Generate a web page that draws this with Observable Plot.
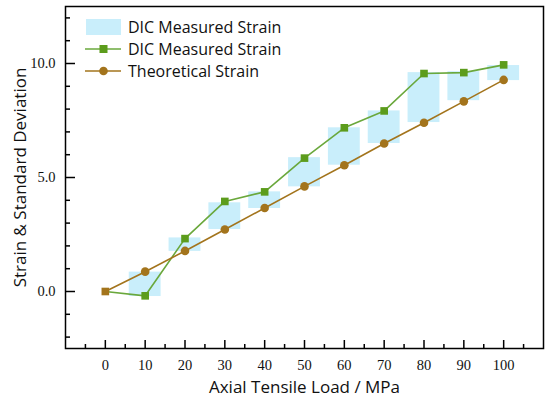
<!DOCTYPE html>
<html>
<head>
<meta charset="utf-8">
<script src="https://cdn.jsdelivr.net/npm/d3@7"></script>
<script src="https://cdn.jsdelivr.net/npm/@observablehq/plot@0.6"></script>
<style>
  html, body { margin: 0; padding: 0; background: #fff; }
  #chart { position: relative; width: 550px; height: 403px; }
</style>
</head>
<body>
<div id="chart"></div>
<script>
// Data
const loads = [0, 10, 20, 30, 40, 50, 60, 70, 80, 90, 100];
const measured = [0, -0.19, 2.32, 3.95, 4.37, 5.85, 7.18, 7.92, 9.56, 9.6, 9.94];
const theoretical = [0, 0.87, 1.78, 2.72, 3.66, 4.61, 5.54, 6.49, 7.40, 8.34, 9.28];
const boxLoads = [10, 20, 30, 40, 50, 60, 70, 80, 90, 100];
const boxLow = [-0.22, 1.76, 2.72, 3.64, 4.59, 5.54, 6.49, 7.41, 8.37, 9.25];
const boxHigh = [0.85, 2.35, 3.89, 4.37, 5.87, 7.18, 7.92, 9.6, 9.64, 9.91];
const xMajorTicks = [0, 10, 20, 30, 40, 50, 60, 70, 80, 90, 100];
const xMinorTicks = [-5, 5, 15, 25, 35, 45, 55, 65, 75, 85, 95, 105];
const yMajorTicks = [0, 5, 10];
const yMinorTicks = [-2, -1, 1, 2, 3, 4, 6, 7, 8, 9, 11, 12];
const legendLabels = ["DIC Measured Strain", "DIC Measured Strain", "Theoretical Strain"];

const green = "#5c9c1c";
const greenLine = "#6aa83c";
const brown = "#a3741c";
const boxFill = "#c9eefb";
const boxHalf = 4;

const W = 550, H = 403, mL = 65, mR = 7, mT = 6, mB = 55;
const fw = W - mL - mR, fh = H - mT - mB;

const pts = loads.map((x, i) => ({x, m: measured[i], t: theoretical[i]}));
const boxes = boxLoads.map((x, i) => ({x, lo: boxLow[i], hi: boxHigh[i]}));

const serif = "Liberation Serif, Times New Roman, serif";
const sans = "Open Sans, Noto Sans, sans-serif";

const plot = Plot.plot({
  width: W,
  height: H,
  marginLeft: mL,
  marginRight: mR,
  marginTop: mT,
  marginBottom: mB,
  style: {background: "#fff", overflow: "visible"},
  x: {domain: [-10, 110]},
  y: {domain: [-2.5, 12.5]},
  marks: [
    Plot.rect(boxes, {x1: d => d.x - boxHalf, x2: d => d.x + boxHalf, y1: "lo", y2: "hi", fill: boxFill}),
    // inward ticks
    Plot.tickX(xMajorTicks, {x: d => d, stroke: "#000", strokeWidth: 1.5, insetTop: fh - 8}),
    Plot.tickX(xMinorTicks, {x: d => d, stroke: "#000", strokeWidth: 1.5, insetTop: fh - 4}),
    Plot.tickY(yMajorTicks, {y: d => d, stroke: "#000", strokeWidth: 1.5, insetRight: fw - 10}),
    Plot.tickY(yMinorTicks, {y: d => d, stroke: "#000", strokeWidth: 1.5, insetRight: fw - 5}),
    Plot.axisX({ticks: xMajorTicks, tickSize: 0, tickPadding: 11, fontSize: 14.5,
      label: "Axial Tensile Load / MPa", labelAnchor: "center", labelArrow: "none", labelOffset: 44}),
    Plot.axisY({ticks: yMajorTicks, tickSize: 0, tickPadding: 10, tickFormat: d3.format(".1f"), fontSize: 14.5,
      label: "Strain & Standard Deviation", labelAnchor: "center", labelArrow: "none", labelOffset: 52}),
    Plot.line(pts, {x: "x", y: "m", stroke: greenLine, strokeWidth: 1.6}),
    Plot.line(pts, {x: "x", y: "t", stroke: brown, strokeWidth: 1.6}),
    Plot.dot(pts.filter(d => d.x > 0), {x: "x", y: "m", symbol: "square", r: 4.3, fill: green}),
    Plot.dot(pts.filter(d => d.x > 0), {x: "x", y: "t", symbol: "circle", r: 4.3, fill: brown}),
    Plot.dot(pts.filter(d => d.x === 0), {x: "x", y: "t", symbol: "square", r: 4.3, fill: brown}),
    Plot.frame({stroke: "#000", strokeWidth: 1.5})
  ]
});

const svg = d3.select(plot);
// tick labels serif, axis titles sans
svg.selectAll("[aria-label='x-axis tick label'] text, [aria-label='y-axis tick label'] text")
  .attr("font-family", serif).attr("fill", "#111");
svg.selectAll("[aria-label='x-axis tick label'], [aria-label='y-axis tick label']")
  .attr("font-family", serif).attr("font-size", 14.5).attr("fill", "#111");
svg.selectAll("[aria-label='x-axis label'], [aria-label='y-axis label']")
  .attr("font-family", sans).attr("font-size", 17).attr("fill", "#111");

// Legend inside the frame (top-left)
const lg = svg.append("g").attr("font-family", sans).attr("font-size", 16).attr("fill", "#111").attr("text-anchor", "start");
const rowY = [27, 49, 71];
const x0 = 86, x1 = 121;
lg.append("rect").attr("x", x0).attr("y", 19).attr("width", x1 - x0).attr("height", 16).attr("fill", boxFill);
lg.append("line").attr("x1", x0 - 1).attr("x2", x1).attr("y1", rowY[1]).attr("y2", rowY[1]).attr("stroke", greenLine).attr("stroke-width", 1.6);
lg.append("rect").attr("x", (x0 + x1) / 2 - 4).attr("y", rowY[1] - 4).attr("width", 8).attr("height", 8).attr("fill", green);
lg.append("line").attr("x1", x0 - 1).attr("x2", x1).attr("y1", rowY[2]).attr("y2", rowY[2]).attr("stroke", brown).attr("stroke-width", 1.6);
lg.append("circle").attr("cx", (x0 + x1) / 2).attr("cy", rowY[2]).attr("r", 4.3).attr("fill", brown);
legendLabels.forEach((t, i) => {
  lg.append("text").attr("x", 128).attr("y", rowY[i]).attr("dy", "0.36em").text(t);
});

document.getElementById("chart").appendChild(plot);
</script>
</body>
</html>
